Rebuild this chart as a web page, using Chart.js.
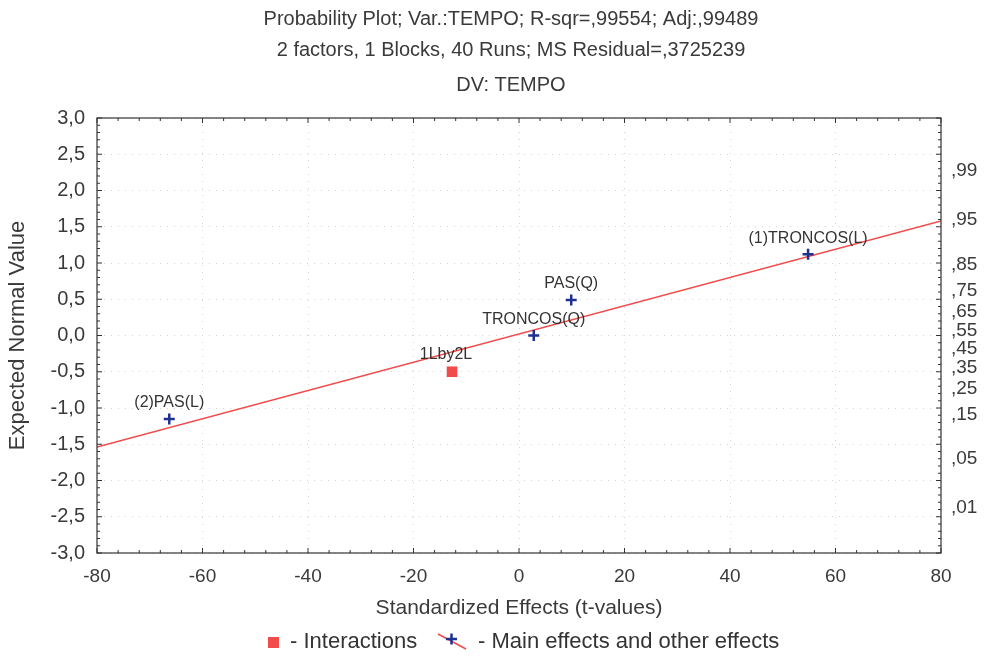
<!DOCTYPE html>
<html>
<head>
<meta charset="utf-8">
<script src="https://cdn.jsdelivr.net/npm/chart.js@4/dist/chart.umd.min.js"></script>
<style>
  html, body { margin: 0; padding: 0; background: #fff; }
  #wrap { width: 990px; height: 657px; position: relative; }
</style>
</head>
<body>
<div id="wrap"><canvas id="probChart" width="990" height="657"></canvas></div>
<script>
// ── Data ───────────────────────────────────────────────────────────────────
const titleLines = [
    'Probability Plot; Var.:TEMPO; R-sqr=,99554; Adj:,99489',
    '2 factors, 1 Blocks, 40 Runs; MS Residual=,3725239',
    'DV: TEMPO'
];

const mainNames = ['(2)PAS(L)', 'TRONCOS(Q)', 'PAS(Q)', '(1)TRONCOS(L)'];
const mainEffects = [-66.3, 2.8, 9.9, 54.8];      // standardized effect (t)
const mainExpected = [-1.15, 0.0, 0.49, 1.12];    // expected normal value

const interNames = ['1Lby2L'];
const interEffects = [-12.7];
const interExpected = [-0.5];

// fitted reference line (end points at the axis limits)
const lineX = [-80, 80];
const lineY = [-1.54, 1.58];

// right axis: cumulative probability labels and their normal quantiles
const probLabels = [',01', ',05', ',15', ',25', ',35', ',45', ',55', ',65', ',75', ',85', ',95', ',99'];
const probZ = [-2.326, -1.645, -1.036, -0.674, -0.385, -0.126, 0.126, 0.385, 0.674, 1.036, 1.645, 2.326];

const FONT = '"Liberation Sans", Arial, sans-serif';
const TXT = '#3a3a3a';

// ── Extras: title, box, minor ticks, point labels, legend ─────────────────
const extras = {
    id: 'extras',
    beforeDraw(chart) {
        const c = chart.ctx;
        c.save();
        c.fillStyle = '#fff';
        c.fillRect(0, 0, chart.width, chart.height);
        c.restore();
    },
    afterDraw(chart) {
        const c = chart.ctx;
        const a = chart.chartArea;
        const xs = chart.scales.x, ys = chart.scales.y;
        c.save();

        // titles
        c.fillStyle = TXT;
        c.font = '20px ' + FONT;
        c.textAlign = 'center';
        c.textBaseline = 'middle';
        const titleY = [19, 50, 85];
        titleLines.forEach((t, i) => c.fillText(t, 511, titleY[i]));

        // frame
        c.strokeStyle = '#333';
        c.lineWidth = 1.2;
        c.strokeRect(a.left, a.top, a.right - a.left, a.bottom - a.top);

        // minor / major ticks pointing inward
        c.lineWidth = 1;
        for (let v = -80; v <= 80; v += 4) {
            const px = xs.getPixelForValue(v);
            const len = v % 20 === 0 ? 5 : 3;
            c.beginPath();
            c.moveTo(px, a.bottom); c.lineTo(px, a.bottom - len);
            c.moveTo(px, a.top); c.lineTo(px, a.top + len);
            c.stroke();
        }
        for (let k = -30; k <= 30; k++) {
            const py = ys.getPixelForValue(k / 10);
            const len = k % 5 === 0 ? 5 : 3;
            c.beginPath();
            c.moveTo(a.left, py); c.lineTo(a.left + len, py);
            c.moveTo(a.right, py); c.lineTo(a.right - len, py);
            c.stroke();
        }

        // point labels
        c.font = '16px ' + FONT;
        c.fillStyle = '#333';
        c.textBaseline = 'middle';
        mainNames.forEach((n, i) => {
            c.fillText(n, xs.getPixelForValue(mainEffects[i]), ys.getPixelForValue(mainExpected[i]) - 16);
        });
        interNames.forEach((n, i) => {
            c.fillText(n, xs.getPixelForValue(interEffects[i]) - 6, ys.getPixelForValue(interExpected[i]) - 17);
        });

        // legend
        const ly = 642;
        c.fillStyle = '#f24b4b';
        c.fillRect(268, ly - 5, 11, 11);
        c.fillStyle = '#333';
        c.font = '22px ' + FONT;
        c.textAlign = 'left';
        c.fillText('- Interactions', 290, ly);
        c.strokeStyle = '#f24b4b';
        c.lineWidth = 1.5;
        c.beginPath(); c.moveTo(438, ly - 8); c.lineTo(466, ly + 7); c.stroke();
        c.strokeStyle = '#1e3190';
        c.lineWidth = 2.5;
        c.beginPath();
        c.moveTo(446, ly - 3); c.lineTo(457, ly - 3);
        c.moveTo(451.5, ly - 8.5); c.lineTo(451.5, ly + 2.5);
        c.stroke();
        c.fillText('- Main effects and other effects', 478, ly);

        c.restore();
    }
};

const ctx = document.getElementById('probChart').getContext('2d');
window.probChart = new Chart(ctx, {
    data: {
        datasets: [
            {
                type: 'line',
                label: 'fit',
                data: lineX.map((x, i) => ({ x: x, y: lineY[i] })),
                borderColor: '#f24b4b',
                borderWidth: 1.5,
                pointRadius: 0,
                tension: 0,
                order: 3
            },
            {
                type: 'scatter',
                label: 'Interactions',
                data: interEffects.map((x, i) => ({ x: x, y: interExpected[i] })),
                pointStyle: 'rect',
                pointRadius: 7.5,
                backgroundColor: '#f24b4b',
                borderColor: '#f24b4b',
                borderWidth: 0,
                order: 2
            },
            {
                type: 'scatter',
                label: 'Main effects and other effects',
                data: mainEffects.map((x, i) => ({ x: x, y: mainExpected[i] })),
                pointStyle: 'cross',
                pointRadius: 5.5,
                borderColor: '#1e3190',
                borderWidth: 2.5,
                order: 1
            }
        ]
    },
    options: {
        responsive: false,
        animation: false,
        layout: { padding: { top: 118, left: 0, right: 0, bottom: 0 } },
        plugins: { legend: { display: false }, tooltip: { enabled: false } },
        scales: {
            x: {
                type: 'linear',
                min: -80, max: 80,
                ticks: { stepSize: 20, color: TXT, font: { family: FONT, size: 19 }, padding: 12 },
                grid: { color: '#d4d4d4', lineWidth: 1, drawTicks: false },
                border: { display: false, dash: [1, 6] },
                title: { display: true, text: 'Standardized Effects (t-values)', color: TXT,
                         font: { family: FONT, size: 21 }, padding: { top: 4, bottom: 36 } },
                afterFit(scale) { scale.height = 104; }
            },
            y: {
                type: 'linear',
                position: 'left',
                min: -3, max: 3,
                ticks: { stepSize: 0.5, color: TXT, font: { family: FONT, size: 20 }, padding: 12,
                         callback: v => v.toFixed(1).replace('.', ',') },
                grid: { color: '#d4d4d4', lineWidth: 1, drawTicks: false },
                border: { display: false, dash: [1, 6] },
                title: { display: true, text: 'Expected Normal Value', color: TXT,
                         font: { family: FONT, size: 22 }, padding: { top: 5, bottom: 0 } },
                afterFit(scale) { scale.width = 97; }
            },
            y2: {
                type: 'linear',
                position: 'right',
                min: -3, max: 3,
                afterBuildTicks(scale) { scale.ticks = probZ.map(v => ({ value: v })); },
                ticks: { color: TXT, font: { family: FONT, size: 19 }, padding: 10, autoSkip: false,
                         labelOffset: 4, callback: (v, i) => probLabels[i] },
                grid: { drawOnChartArea: false, drawTicks: false },
                border: { display: false },
                afterFit(scale) { scale.width = 49; }
            }
        }
    },
    plugins: [extras]
});
</script>
</body>
</html>
